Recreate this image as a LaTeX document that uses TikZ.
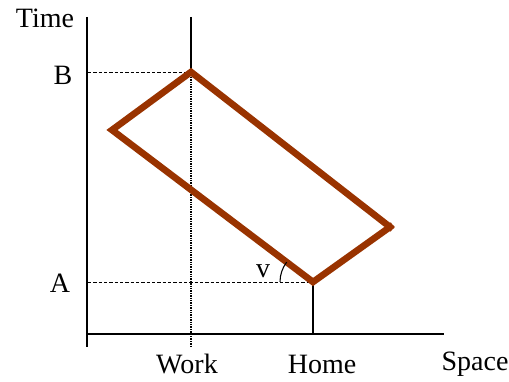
\documentclass[tikz,border=0pt]{standalone}
\usepackage{fontspec}
\setmainfont{Liberation Serif}
\usepackage{xcolor}
\usetikzlibrary{positioning,calc}
\definecolor{trip}{RGB}{153,51,0}

\begin{document}
\begin{tikzpicture}[x=0.75pt,y=0.75pt,
    axis/.style={line width=1.1pt},
    guide/.style={line width=0.6pt,dash pattern=on 2.5pt off 1.5pt},
    dotguide/.style={line width=0.8pt,dash pattern=on 1pt off 0.8pt},
    path/.style={trip,line width=5pt,line join=miter,line cap=rect},
    lbl/.style={font=\fontsize{21}{24}\selectfont,inner sep=0pt}]
    \useasboundingbox (0,0) rectangle (509,381);
    \coordinate (O) at (87,47);
    \coordinate (top) at (87,364);
    \coordinate (bot) at (87,34);
    \coordinate (end) at (444,47);
    \coordinate (B) at (191,309);
    \coordinate (L) at (112,251);
    \coordinate (V) at (313,99);
    \coordinate (R) at (390,154);
    \coordinate (wtop) at (191,364);
    \coordinate (wbot) at (191,34);
    \coordinate (By) at (88,309);
    \coordinate (Ay) at (88,99);
    \coordinate (H) at (313,47);
    % axes
    \draw[axis] (top) -- (bot);
    \draw[axis] (O) -- (end);
    \draw[axis] (wtop) -- (B);
    \draw[axis] (V) -- (H);
    % guides
    \draw[guide] (By) -- (B);
    \draw[guide] (Ay) -- (V);
    \draw[dotguide] (B) -- (wbot);
    % the trip
    \draw[path] (R) -- (B) -- (L) -- (V) -- (R);
    \draw[line width=0.8pt] ($(V)+(180:33)$) arc (180:143:33);
    \node[lbl] (time) at (45,363) {Time}; %label
    \node[lbl] (b) at (63,306) {B}; %label
    \node[lbl] (a) at (60,98) {A}; %label
    \node[lbl] (v) at (263,110) {v}; %label
    \node[lbl] (work) at (187,17) {Work}; %label
    \node[lbl] (home) at (322,17) {Home}; %label
    \node[lbl] (space) at (475,17) {Space}; %label
\end{tikzpicture}
\end{document}
